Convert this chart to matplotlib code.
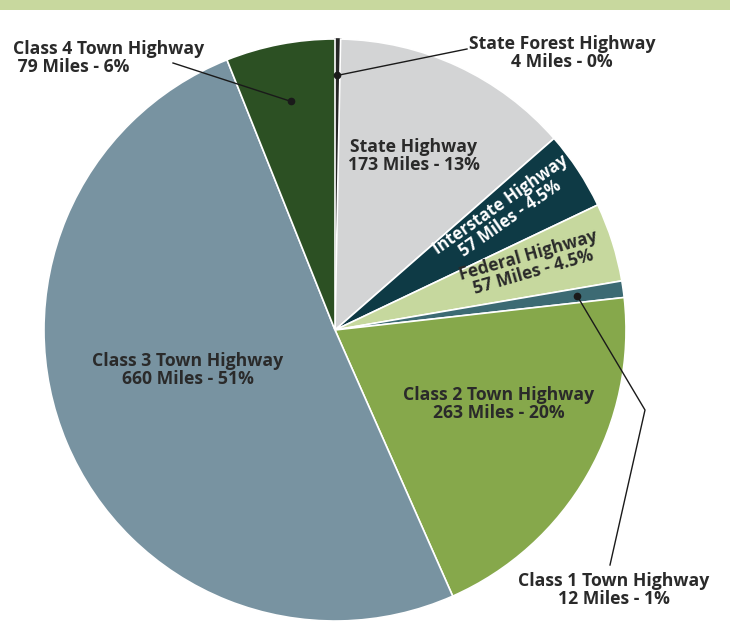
import numpy as np
import matplotlib.pyplot as plt
from matplotlib.patches import Rectangle

plt.rcParams['font.family'] = ['Open Sans', 'DejaVu Sans']

categories = ['State Forest Highway', 'State Highway', 'Interstate Highway', 'Federal Highway',
              'Class 1 Town Highway', 'Class 2 Town Highway', 'Class 3 Town Highway',
              'Class 4 Town Highway']
miles = [4, 173, 57, 57, 12, 263, 660, 79]
percent_labels = ['0%', '13%', '4.5%', '4.5%', '1%', '20%', '51%', '6%']
colors = ['#262626', '#d3d4d5', '#0e3a45', '#c6d89e', '#3c6a73', '#86a84b', '#7893a1', '#2c5023']

W, H = 730, 644
CX, CY, R = 335, 330, 291
TXT = '#2a2a2a'


def px(x, y):
    # pixel position -> data coordinates (pie centred at 0,0 with radius 1)
    return (x - CX) / R, (CY - y) / R


fig = plt.figure(figsize=(W / 100, H / 100), dpi=100)
ax = fig.add_axes([0, 0, 1, 1])

wedges, _ = ax.pie(miles, colors=colors, startangle=90, counterclock=False, radius=1,
                   wedgeprops=dict(edgecolor='white', linewidth=1.2))
wedges[0].set_edgecolor(colors[0])
ax.set_aspect('auto')
ax.set_xlim(-CX / R, (W - CX) / R)
ax.set_ylim(-(H - CY) / R, CY / R)
ax.axis('off')

# mid angle of each slice (degrees, standard orientation)
total = sum(miles)
cum = np.cumsum([0] + miles)
mid = [90 - (cum[i] + miles[i] / 2) / total * 360 for i in range(len(miles))]


def polar(i, r):
    a = np.radians(mid[i])
    return r * np.cos(a), r * np.sin(a)


def label(i):
    return f'{categories[i]}\n{miles[i]} Miles - {percent_labels[i]}'


fs = 12.7
ls = 1.02
kw = dict(fontsize=fs, fontweight='bold', linespacing=ls)
# labels inside the slices
ax.text(*px(414, 156), label(1), ha='center', va='center', color=TXT, **kw)
ax.text(*px(505, 212), label(2), ha='center', va='center', color='white',
        rotation=35, rotation_mode='anchor', fontsize=12, fontweight='bold', linespacing=0.92)
ax.text(*px(531, 264), label(3), ha='center', va='center', color=TXT,
        rotation=16, rotation_mode='anchor', fontsize=12.4, fontweight='bold', linespacing=0.98)
ax.text(*px(499, 404), label(5), ha='center', va='center', color=TXT, **kw)
ax.text(*px(188, 370), label(6), ha='center', va='center', color=TXT, **kw)

# leader lines for the thin slices
d0 = polar(0, 0.875)
ax.plot([d0[0], px(467, 49)[0]], [d0[1], px(467, 49)[1]], color='#1a1a1a', lw=1)
ax.plot(*d0, 'o', color='#1a1a1a', ms=4.5)
ax.text(*px(562, 53), label(0), ha='center', va='center', color=TXT, **kw)

d7 = polar(7, 0.80)
ax.plot([d7[0], px(173, 63)[0]], [d7[1], px(173, 63)[1]], color='#1a1a1a', lw=1)
ax.plot(*d7, 'o', color='#1a1a1a', ms=4.5)
ax.text(*px(13, 58), f'{categories[7]}\n {miles[7]} Miles - {percent_labels[7]}',
        ha='left', va='center', color=TXT, **kw)

d4 = polar(4, 0.84)
k1, k2 = px(645, 410), px(610, 565)
ax.plot([d4[0], k1[0], k2[0]], [d4[1], k1[1], k2[1]], color='#1a1a1a', lw=1)
ax.plot(*d4, 'o', color='#1a1a1a', ms=4.5)
ax.text(*px(614, 590), label(4), ha='center', va='center', color=TXT, **kw)

# header band
fig.patches.append(Rectangle((0, 1 - 10 / H), 1, 10 / H, transform=fig.transFigure,
                             facecolor='#c8d89e', edgecolor='none'))

fig.savefig('out.png', dpi=100)
